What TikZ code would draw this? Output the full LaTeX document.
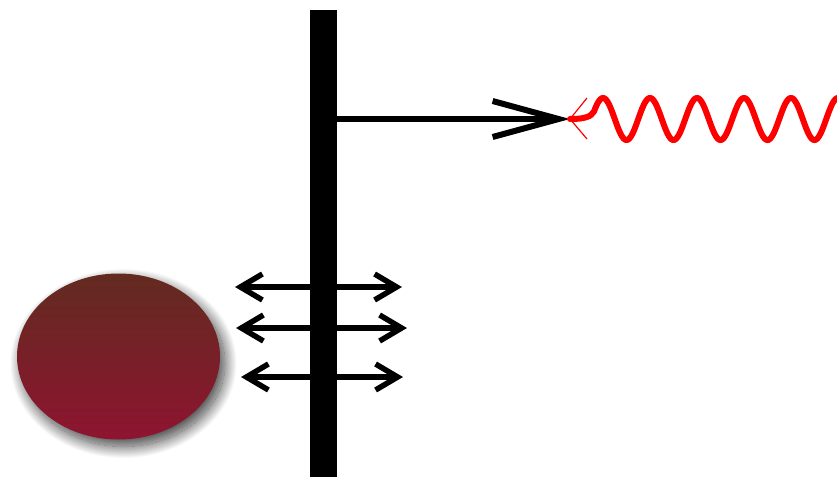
\documentclass[tikz,border=0pt]{standalone}
\usetikzlibrary{arrows.meta,shadows.blur,shapes.geometric}
\definecolor{celltop}{HTML}{622B20}
\definecolor{cellbot}{HTML}{8E1430}
\tikzset{
  membrane/.style={fill=black,draw=none,minimum width=27pt,minimum height=467pt,inner sep=0pt,rectangle},
  cell/.style={ellipse,minimum width=203pt,minimum height=166pt,inner sep=0pt,top color=celltop,bottom color=cellbot,draw=none,
     blur shadow={shadow xshift=5pt,shadow yshift=-7pt,shadow blur radius=12pt,shadow blur steps=30,shadow opacity=75}},
  flux/.style={line width=5.5pt,{Straight Barb[length=22pt,width=26pt,line width=5.5pt]}-{Straight Barb[length=22pt,width=26pt,line width=5.5pt]}},
  signal/.style={line width=5.5pt,-{Straight Barb[length=66pt,width=36pt,line width=6pt]}},
  wave/.style={red,line width=6pt,line cap=round},
  chev/.style={red,line width=1.2pt}
}
\begin{document}
\begin{tikzpicture}[x=1pt,y=-1pt]
\useasboundingbox (0,0) rectangle (837,477);
\begin{scope}
\clip (0,0) rectangle (837,477);
\node[membrane] (bar) at (323.5,243.5) {};
\node[cell] (cell) at (118.5,356.5) {};
% signal arrow
\coordinate (s0) at (337,119);
\coordinate (tip) at (570,119);
\draw[signal] (s0) -- (tip);
% chevron on the wave end
\coordinate (c1) at (587,98);
\coordinate (c2) at (587,139);
\draw[chev] (c1) -- (tip) -- (c2);
% wavy photon
\pgfmathsetmacro{\sy}{119-21*cos(7.6596*(594-603))}
\coordinate (w0) at (594,\sy);
\draw[wave] (tip) .. controls (584,119) and (591,117) .. (w0)
   -- plot[domain=594:860,samples=300] (\x,{119-21*cos(7.6596*(\x-603))});
% transport arrows
\coordinate (a1l) at (235,287); \coordinate (a1r) at (402,287);
\coordinate (a2l) at (236,328); \coordinate (a2r) at (407,328);
\coordinate (a3l) at (241,377); \coordinate (a3r) at (403,377);
\draw[flux] (a1l) -- (a1r);
\draw[flux] (a2l) -- (a2r);
\draw[flux] (a3l) -- (a3r);
\end{scope}
\end{tikzpicture}
\end{document}
